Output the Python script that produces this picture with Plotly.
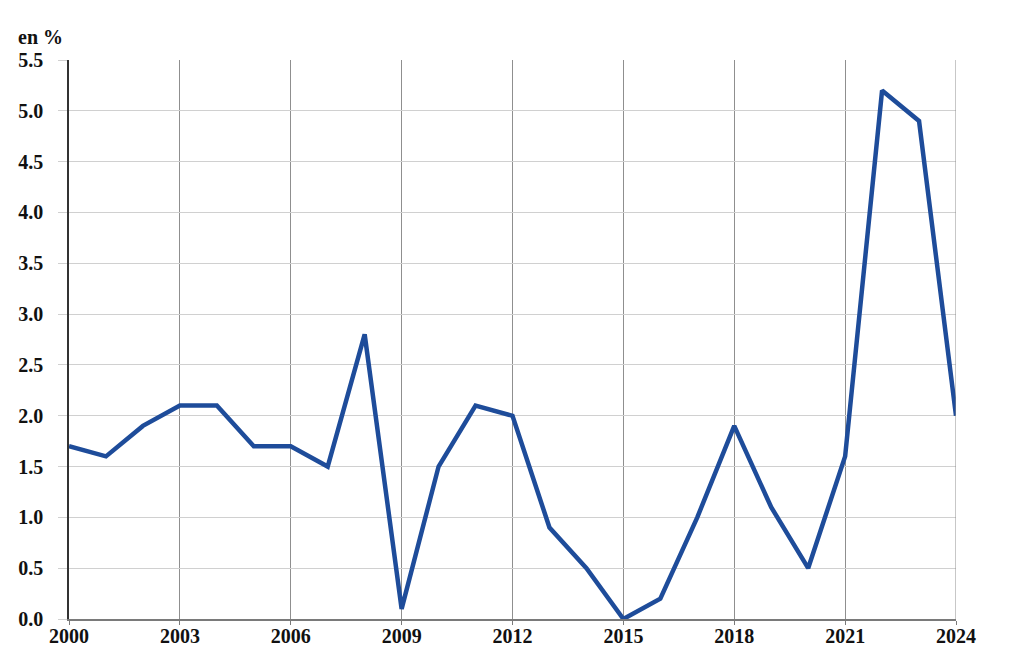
import plotly.graph_objects as go

years = list(range(2000, 2025))
values = [1.7, 1.6, 1.9, 2.1, 2.1, 1.7, 1.7, 1.5, 2.8, 0.1, 1.5, 2.1, 2.0,
          0.9, 0.5, 0.0, 0.2, 1.0, 1.9, 1.1, 0.5, 1.6, 5.2, 4.9, 2.0]
x_ticks = [2000, 2003, 2006, 2009, 2012, 2015, 2018, 2021, 2024]
y_ticks = [0.0, 0.5, 1.0, 1.5, 2.0, 2.5, 3.0, 3.5, 4.0, 4.5, 5.0, 5.5]

fig = go.Figure()
fig.add_trace(go.Scatter(x=years, y=values, mode="lines",
                         line=dict(color="#1E4C9A", width=4.5), showlegend=False))

font = dict(family="Liberation Serif", size=20, color="#111111")
fig.update_layout(
    width=1024, height=647,
    margin=dict(l=61, r=76, t=52, b=36),
    paper_bgcolor="white", plot_bgcolor="white",
    font=font,
    xaxis=dict(range=[2000, 2024], tickvals=x_ticks,
               ticktext=[f"<b>{v}</b>" for v in x_ticks],
               showgrid=True, gridcolor="#8f8f8f", gridwidth=1,
               showline=True, linecolor="#7a7a7a", linewidth=1.5,
               ticks="outside", ticklen=4, tickcolor="#7a7a7a",
               ticklabelstandoff=-6,
               zeroline=False, mirror=False, tickfont=font, automargin=False),
    yaxis=dict(range=[0, 5.5], tickvals=y_ticks,
               ticktext=[f"<b>{v:.1f}</b>" for v in y_ticks],
               showgrid=True, gridcolor="#d0d0d0", gridwidth=1,
               showline=True, linecolor="#333333", linewidth=1.5,
               ticks="outside", ticklen=9, tickcolor="#d0d0d0",
               ticklabelstandoff=11,
               zeroline=False, tickfont=font, automargin=False),
)
fig.add_shape(type="line", xref="x", yref="paper", x0=2024, x1=2024, y0=0, y1=1,
              line=dict(color="#8f8f8f", width=1))
fig.add_annotation(text="<b>en %</b>", xref="paper", yref="paper",
                   x=-0.06, y=1.0, xanchor="left", yanchor="bottom", yshift=10,
                   showarrow=False, font=font)
fig.write_html("out.html")
